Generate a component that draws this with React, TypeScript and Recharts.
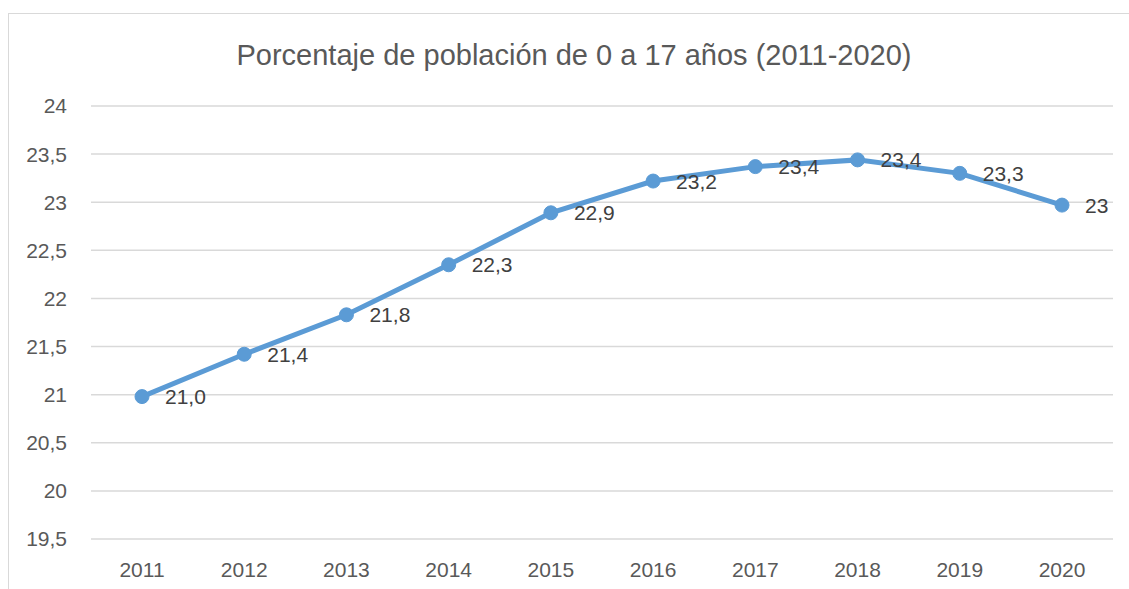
import { LineChart, Line, XAxis, YAxis, CartesianGrid, LabelList } from 'recharts'

const years = ['2011', '2012', '2013', '2014', '2015', '2016', '2017', '2018', '2019', '2020']
const shares = [20.98, 21.42, 21.83, 22.35, 22.89, 23.22, 23.37, 23.44, 23.3, 22.97]
const pointLabels = ['21,0', '21,4', '21,8', '22,3', '22,9', '23,2', '23,4', '23,4', '23,3', '23']
const yTicks = [19.5, 20, 20.5, 21, 21.5, 22, 22.5, 23, 23.5, 24]

const chartData = years.map((year, i) => ({ year, share: shares[i], label: pointLabels[i] }))

const FONT = '"Liberation Sans", Arial, sans-serif'
const BLUE = '#5B9BD5'

// label sits to the right of each point, vertically centred on it
const PointLabel = (props: any) => {
  const { x, y, index } = props
  return (
    <text x={x + 23} y={y} dy="0.355em" textAnchor="start" fontSize={21} fontFamily={FONT} fill="#404040">
      {pointLabels[index]}
    </text>
  )
}

export default function App() {
  return (
    <div
      style={{
        position: 'absolute',
        left: 8,
        top: 13,
        width: 1120,
        height: 575,
        borderLeft: '1px solid #d9d9d9',
        borderTop: '1px solid #d9d9d9',
        background: '#fff',
        fontFamily: FONT,
      }}
    >
      <div
        style={{
          position: 'absolute',
          top: 27,
          left: 5,
          width: 1120,
          textAlign: 'center',
          fontSize: 29,
          lineHeight: '29px',
          color: '#595959',
        }}
      >
        Porcentaje de población de 0 a 17 años (2011-2020)
      </div>
      <LineChart width={1120} height={575} data={chartData} margin={{ top: 92, right: 16, left: 0, bottom: 20 }}>
        <CartesianGrid vertical={false} stroke="#d9d9d9" strokeWidth={1.5} />
        <XAxis
          dataKey="year"
          height={30}
          axisLine={false}
          tickLine={false}
          tickSize={0}
          tickMargin={23}
          padding={{ left: 51, right: 51 }}
          tick={{ fontSize: 21, fill: '#595959', fontFamily: FONT }}
        />
        <YAxis
          width={82}
          domain={[19.5, 24]}
          ticks={yTicks}
          interval={0}
          axisLine={false}
          tickLine={false}
          tickSize={0}
          tickMargin={24}
          tickFormatter={(v: number) => String(v).replace('.', ',')}
          tick={{ fontSize: 21, fill: '#595959', fontFamily: FONT }}
        />
        <Line
          type="linear"
          dataKey="share"
          stroke={BLUE}
          strokeWidth={5}
          dot={{ r: 7, fill: BLUE, stroke: BLUE, strokeWidth: 1 }}
          activeDot={false}
          isAnimationActive={false}
        >
          <LabelList dataKey="label" content={<PointLabel />} />
        </Line>
      </LineChart>
    </div>
  )
}
